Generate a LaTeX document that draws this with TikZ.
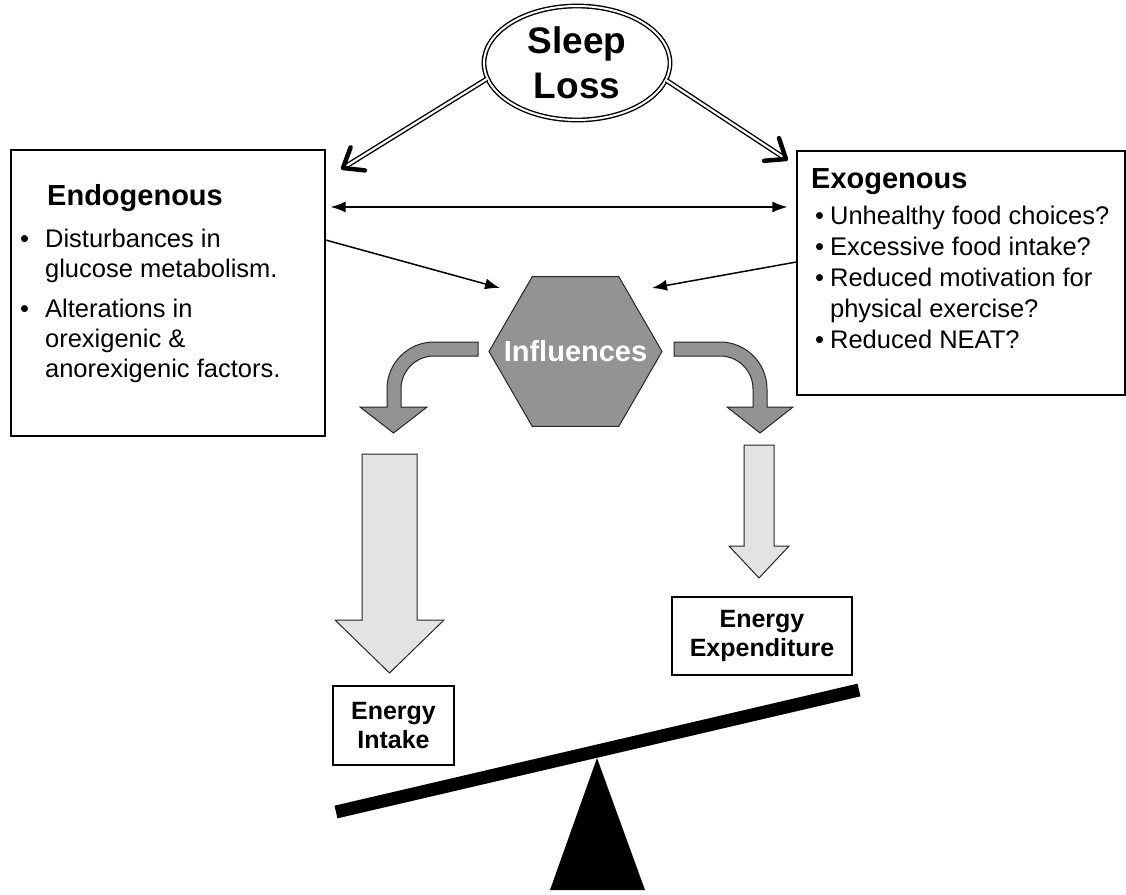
\documentclass[tikz,border=0pt]{standalone}
\usepackage{fontspec}
\setmainfont{Liberation Sans}
\usepackage{xcolor}
\usetikzlibrary{shapes.geometric, arrows.meta, positioning, calc}

\definecolor{hexgray}{HTML}{939393}
\definecolor{palegray}{HTML}{E3E3E3}

\begin{document}
\begin{tikzpicture}[x=1pt, y=-1pt,
    box/.style={draw=black, line width=1.2pt, fill=white, inner sep=0pt},
    title/.style={anchor=base west, inner sep=0pt, font=\fontsize{29}{34}\selectfont\bfseries},
    itemlist/.style={anchor=north west, inner sep=0pt},
    thinarrow/.style={line width=1.5pt, -{Latex[length=15pt,width=11pt]}},
    sleepline/.style={draw=black, double=white, double distance=2.2pt, line width=1.4pt},
    barbtip/.style={line width=4.5pt, line cap=round, line join=round},
    bendarrow/.style={fill=hexgray, draw=black!85, line width=1pt},
    blockarrow/.style={fill=palegray, draw=black!85, line width=1pt}]

  \useasboundingbox (0,0) rectangle (1126,894);

  % cause
  \node[ellipse, draw, double, double distance=2pt, line width=1.4pt,
    minimum width=186pt, minimum height=114pt, inner sep=0pt, align=center,
    font=\fontsize{37}{45}\selectfont\bfseries] (sleep) at (577,63) {Sleep\\Loss};

  % the two boxes
  \node[box, minimum width=314pt, minimum height=286pt] (endo) at (168,293) {};
  \node[title] (endoTitle) at (47,205) {Endogenous};
  \node[itemlist, font=\fontsize{25.5}{30}\selectfont] (endoList) at (20,226)
    {\begin{tabular}{@{}l@{\hspace{16pt}}l@{}}
      \textbullet & Disturbances in\\
                  & glucose metabolism.\\[10pt]
      \textbullet & Alterations in\\
                  & orexigenic \&\\
                  & anorexigenic factors.
    \end{tabular}};

  \node[box, minimum width=328pt, minimum height=244pt] (exo) at (961,273) {};
  \node[title] (exoTitle) at (811,188) {Exogenous};
  \node[itemlist, font=\fontsize{25.5}{31}\selectfont] (exoList) at (815,203)
    {\begin{tabular}{@{}l@{\hspace{6pt}}l@{}}
      \textbullet & Unhealthy food choices?\\
      \textbullet & Excessive food intake?\\
      \textbullet & Reduced motivation for\\
                  & physical exercise?\\
      \textbullet & Reduced NEAT?
    \end{tabular}};

  \node[regular polygon, regular polygon sides=6, minimum size=173pt, inner sep=0pt,
    fill=hexgray, draw=black!85, line width=1pt] (infl) at (575.5,351.5) {};
  \node[text=white, font=\fontsize{29}{34}\selectfont\bfseries] (inflText) at (infl) {Influences};

  \node[box, minimum width=121pt, minimum height=79pt, align=center,
    font=\fontsize{25}{29}\selectfont\bfseries] (intake) at (393.5,725.5) {Energy\\Intake};
  \node[box, minimum width=180pt, minimum height=78pt, align=center,
    font=\fontsize{25}{29}\selectfont\bfseries] (expend) at (762,636) {Energy\\Expenditure};

  \coordinate (endoTip) at (343,168);
  \coordinate (exoTip) at (786,159);
  \coordinate (inL) at (500,288);
  \coordinate (inR) at (652,288);

  % double arrows from sleep loss, barbs drawn by hand
  \draw[sleepline, shorten >=3pt] (sleep.190) -- (endoTip);
  \draw[sleepline, shorten >=3pt] (sleep.349) -- (exoTip);
  \draw[barbtip] ($(endoTip)!22pt!-38:(sleep.190)$) -- (endoTip) -- ($(endoTip)!22pt!38:(sleep.190)$);
  \draw[barbtip] ($(exoTip)!22pt!-38:(sleep.349)$) -- (exoTip) -- ($(exoTip)!22pt!38:(sleep.349)$);

  \draw[line width=1.5pt, {Latex[length=15pt,width=11pt]}-{Latex[length=15pt,width=11pt]}]
    ([xshift=5pt,yshift=86pt]endo.east) -- ([xshift=-9pt,yshift=66pt]exo.west);
  \draw[thinarrow] ([yshift=53pt]endo.east) -- (inL);
  \draw[thinarrow] ([yshift=11pt]exo.west) -- (inR);

  % bent arrows out of the hexagon
  \draw[bendarrow] (478,342) -- (434,342) arc[start angle=-90, end angle=-180, radius=47]
    -- (387,407) -- (360,407) -- (393.5,433) -- (427,407) -- (401,407) -- (401,389)
    arc[start angle=180, end angle=270, radius=33] -- (478,356) -- cycle;
  \draw[bendarrow] (674,342) -- (720,342) arc[start angle=-90, end angle=0, radius=47]
    -- (767,407) -- (793,407) -- (760,433) -- (727,407) -- (753,407) -- (753,389)
    arc[start angle=0, end angle=-90, radius=33] -- (674,356) -- cycle;

  % block arrows
  \draw[blockarrow] (362,454) -- (417,454) -- (417,620) -- (444,620) -- (389.5,673)
    -- (335,620) -- (362,620) -- cycle;
  \draw[blockarrow] (744,445) -- (774,445) -- (774,546) -- (789,546) -- (759,578)
    -- (729,546) -- (744,546) -- cycle;

  % seesaw
  \draw[line width=13pt] (336,812) -- (859,690);
  \fill (597,758) -- (645,890) -- (550,890) -- cycle;
\end{tikzpicture}
\end{document}
